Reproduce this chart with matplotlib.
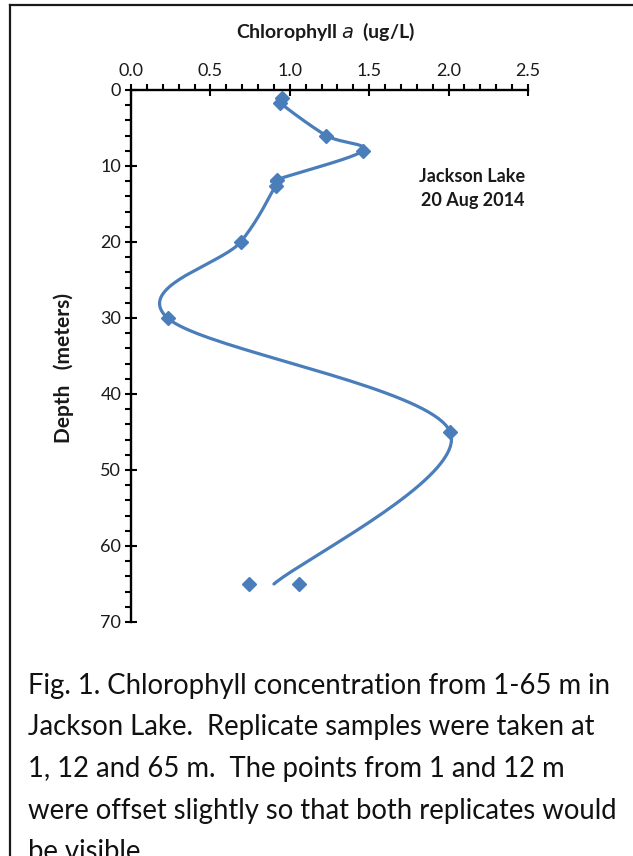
import numpy as np
import matplotlib
matplotlib.use("Agg")
import matplotlib.pyplot as plt
from matplotlib.lines import Line2D

# ---- data ----
depth_line = [1.1, 1.7, 6, 8, 11.8, 12.6, 20, 30, 45, 65]
chl_line = [0.95, 0.94, 1.23, 1.46, 0.92, 0.91, 0.69, 0.23, 2.01, 0.90]
marker_mask = [True, True, True, True, True, True, True, True, True, False]
depth_rep65 = [65, 65]
chl_rep65 = [0.745, 1.058]

x_ticks = [0.0, 0.5, 1.0, 1.5, 2.0, 2.5]
y_ticks = [0, 10, 20, 30, 40, 50, 60, 70]
title_main = "Chlorophyll "
title_it = "a"
title_units = "  (ug/L)"
ylabel = "Depth   (meters)"
note = "Jackson Lake\n20 Aug 2014"
caption_lines = [
    "Fig. 1. Chlorophyll concentration from 1-65 m in",
    "Jackson Lake.  Replicate samples were taken at",
    "1, 12 and 65 m.  The points from 1 and 12 m",
    "were offset slightly so that both replicates would",
    "be visible.",
]

BLUE = "#4A7EBB"
FONT = "Lato"
TXT = "#1a1a1a"

def excel_smooth(xs, ys, n=40):
    P = np.column_stack([xs, ys]).astype(float)
    out = [P[0]]
    m = len(P)
    for i in range(m - 1):
        p0 = P[i - 1] if i > 0 else P[i]
        p1 = P[i]
        p2 = P[i + 1]
        p3 = P[i + 2] if i + 2 < m else P[i + 1]
        c1 = p1 + (p2 - p0) / 6.0
        c2 = p2 - (p3 - p1) / 6.0
        t = np.linspace(0, 1, n)[1:, None]
        seg = ((1 - t) ** 3) * p1 + 3 * ((1 - t) ** 2) * t * c1 + 3 * (1 - t) * t ** 2 * c2 + t ** 3 * p2
        out.extend(seg)
    out = np.array(out)
    return out[:, 0], out[:, 1]

W, H = 633, 856
fig = plt.figure(figsize=(W / 100, H / 100), dpi=100)
fig.patch.set_facecolor("white")

# border (top and left)
fig.add_artist(Line2D([9.5 / W, 1.0], [1 - 5 / H, 1 - 5 / H], transform=fig.transFigure,
                      color="#1a1a1a", lw=1.6))
fig.add_artist(Line2D([9.5 / W, 9.5 / W], [1 - 5 / H, 0], transform=fig.transFigure,
                      color="#1a1a1a", lw=1.6))

ax = fig.add_axes([131 / W, 1 - 622 / H, (528 - 131) / W, (622 - 90) / H])
sx, sy = excel_smooth(chl_line, depth_line)
ax.plot(sx, sy, color=BLUE, lw=2.3, solid_capstyle="round", zorder=2)
mx = [c for c, m in zip(chl_line, marker_mask) if m]
my = [d for d, m in zip(depth_line, marker_mask) if m]
ax.plot(mx, my, ls="none", marker="D", ms=7.3, color=BLUE, mec=BLUE, zorder=3)
ax.plot(chl_rep65, depth_rep65, ls="none", marker="D", ms=7.3, color=BLUE, mec=BLUE, zorder=3)

ax.set_xlim(0, 2.5)
ax.set_ylim(70, 0)
ax.xaxis.tick_top()
ax.set_xticks(x_ticks)
ax.set_xticklabels([f"{v:.1f}" for v in x_ticks])
ax.set_xticks(np.arange(0, 2.5001, 0.1), minor=True)
ax.set_yticks(y_ticks)
ax.set_yticklabels([str(v) for v in y_ticks])
ax.set_yticks(np.arange(0, 70.001, 2), minor=True)
for s in ["right", "bottom"]:
    ax.spines[s].set_visible(False)
for s in ["top", "left"]:
    ax.spines[s].set_linewidth(1.7)
    ax.spines[s].set_color("black")
ax.tick_params(axis="both", which="major", direction="inout", length=8, width=1.5,
               labelsize=13, pad=3)
ax.tick_params(axis="x", which="major", pad=4)
ax.tick_params(axis="both", which="minor", direction="out", length=4, width=1.5)
for lab in ax.get_xticklabels() + ax.get_yticklabels():
    lab.set_fontfamily(FONT)
    lab.set_color(TXT)

ax.text(2.15, 12.9, note, ha="center", va="center", fontfamily=FONT, fontweight="bold",
        fontsize=13, linespacing=1.5, color=TXT)

fig.text(326 / W, 1 - 32 / H, title_main + r"$\mathbf{\mathit{a}}$" + title_units,
         ha="center", va="center", fontfamily=FONT, fontweight="bold", fontsize=14,
         color=TXT)
fig.text(64 / W, 1 - 368 / H, ylabel, rotation=90, ha="center", va="center",
         fontfamily=FONT, fontweight="bold", fontsize=15, color=TXT)

y0 = 694
for i, line in enumerate(caption_lines):
    fig.text(28 / W, 1 - (y0 + 41.5 * i) / H, line, ha="left", va="baseline",
             fontfamily=FONT, fontsize=19.8, color="#111111")

fig.savefig("out.png", dpi=100, facecolor="white")
